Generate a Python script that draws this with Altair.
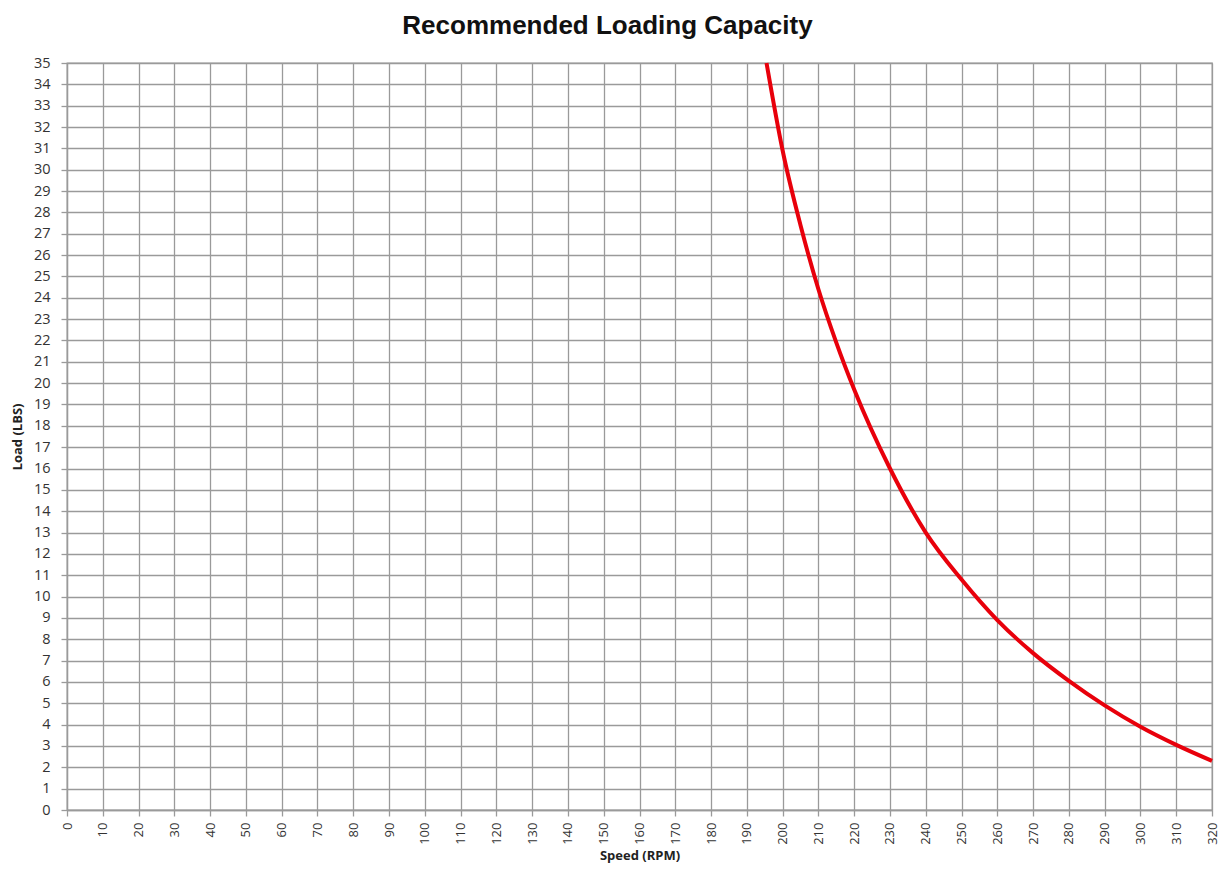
import altair as alt
import pandas as pd

speed = [195.5, 200, 205, 210, 215, 220, 230, 240, 250, 260, 270, 280, 290, 300, 310, 320]
load = [35.0, 30.9, 27.4, 24.4, 21.9, 19.7, 16.0, 13.0, 10.8, 8.9, 7.35, 6.05, 4.9, 3.9, 3.05, 2.3]

x_ticks = list(range(0, 321, 10))
y_ticks = list(range(0, 36, 1))

df = pd.DataFrame({"speed": speed, "load": load})

FONT = "Open Sans"

chart = alt.Chart(df).mark_line(color="#e8000b", strokeWidth=4, interpolate="monotone").encode(
    x=alt.X("speed:Q", title="Speed (RPM)",
            scale=alt.Scale(domain=[0, 320], nice=False, zero=False),
            axis=alt.Axis(values=x_ticks, labelAngle=270, labelFontSize=13,
                          labelFont=FONT, labelColor="#333", labelPadding=6,
                          titleFont=FONT, titleFontSize=13, titleFontWeight="bold",
                          titleColor="#222", titlePadding=5)),
    y=alt.Y("load:Q", title="Load (LBS)",
            scale=alt.Scale(domain=[0, 35], nice=False),
            axis=alt.Axis(values=y_ticks, labelFontSize=14.5, labelFont=FONT,
                          labelColor="#333", labelPadding=11,
                          titleFont=FONT, titleFontSize=13, titleFontWeight="bold",
                          titleColor="#222", titlePadding=9)),
).properties(
    width=1145,
    height=747,
    title=alt.TitleParams("Recommended Loading Capacity", font="Liberation Sans", fontSize=26,
                          fontWeight="bold", color="#111", anchor="middle",
                          offset=16, dx=-32),
    autosize=alt.AutoSizeParams(type="none"),
    padding={"left": 59, "top": 55, "right": 8, "bottom": 55},
).configure_axis(
    grid=True, gridColor="#9a9a9a", gridWidth=1.3, gridOpacity=1,
    domainColor="#9a9a9a", domainWidth=1.3,
    tickColor="#9a9a9a", tickSize=6, tickWidth=1.3,
).configure_view(stroke="#9a9a9a", strokeWidth=1.3)

chart.save("out.html", embed_options={"renderer": "svg", "actions": False})
